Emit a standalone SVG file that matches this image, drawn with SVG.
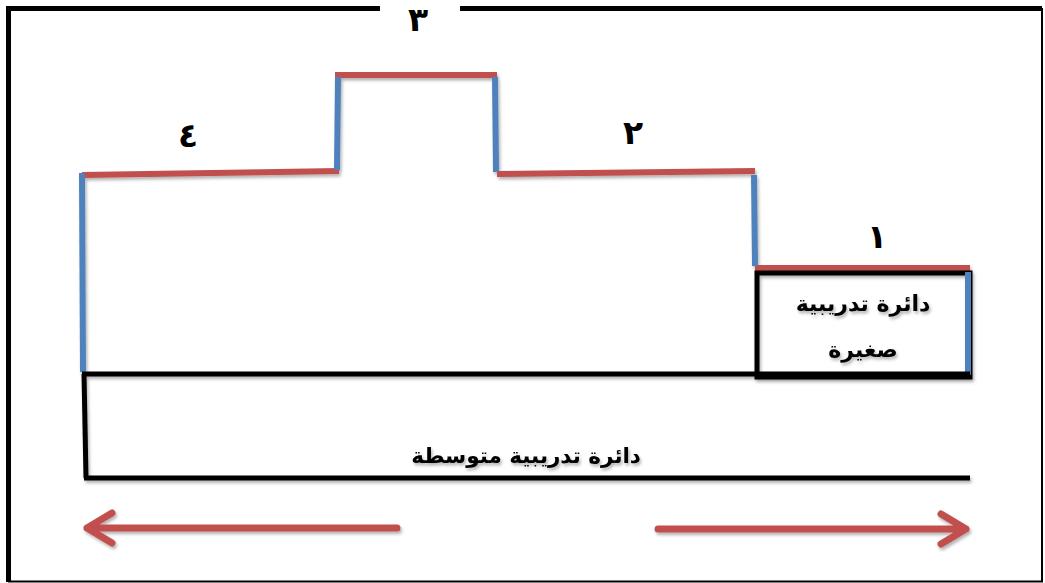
<svg xmlns="http://www.w3.org/2000/svg" width="1045" height="583" viewBox="0 0 1045 583">
<defs>
<filter id="sh" x="-10%" y="-10%" width="130%" height="160%">
<feDropShadow dx="1.5" dy="2.5" stdDeviation="1.5" flood-color="#000" flood-opacity="0.3"/>
</filter>
</defs>
<style>
.red{stroke:#c0504d;stroke-width:6;fill:none;stroke-linecap:butt}
.blue{stroke:#4f81bd;stroke-width:6;fill:none}
.blk{stroke:#000;stroke-width:5;fill:none}
.arr{stroke:#c0504d;stroke-width:7;fill:none;stroke-linecap:round;stroke-linejoin:round}
.t{font-family:"DejaVu Sans","Noto Sans",sans-serif;font-weight:bold;fill:#000;text-anchor:middle}
.num{font-size:33px}
.lab{font-size:22px}
.lab2{font-size:21.5px}
</style>
<rect width="1045" height="583" fill="#fff"/>
<g id="frame">
<line x1="8.5" y1="8.5" x2="380" y2="8.5" stroke="#000" stroke-width="5"/>
<line x1="460" y1="8.5" x2="1042" y2="8.5" stroke="#000" stroke-width="5"/>
<line x1="8.5" y1="6" x2="8.5" y2="582" stroke="#000" stroke-width="5"/>
<line x1="1042" y1="8" x2="1042" y2="582" stroke="#000" stroke-width="2"/>
<line x1="8" y1="581.5" x2="1043" y2="581.5" stroke="#000" stroke-width="2"/>
</g>
<g id="steps" filter="url(#sh)">
<line class="red" x1="82" y1="175" x2="339" y2="171"/>
<line class="red" x1="335" y1="75" x2="497" y2="75"/>
<line class="red" x1="497" y1="174" x2="755" y2="171"/>
<line class="red" x1="755" y1="268" x2="970" y2="268"/>
<line class="blue" x1="82" y1="173" x2="83" y2="372"/>
<line class="blue" x1="338" y1="77" x2="337" y2="170"/>
<line class="blue" x1="495" y1="77" x2="496" y2="172"/>
<line class="blue" x1="754" y1="175" x2="755" y2="266"/>
</g>
<g id="small-circle" filter="url(#sh)">
<rect class="blk" x="757" y="273" width="213" height="104"/>
<line class="blue" x1="968" y1="272" x2="968" y2="375"/>
<text class="t lab" x="863" y="311">دائرة تدريبية</text>
<text class="t lab" x="863" y="357">صغيرة</text>
</g>
<g id="medium-circle" filter="url(#sh)">
<line class="blk" x1="82" y1="374" x2="970" y2="374"/>
<line class="blk" x1="84" y1="374" x2="86" y2="478"/>
<line class="blk" x1="84" y1="478" x2="970" y2="478"/>
<text class="t lab2" x="526" y="463">دائرة تدريبية متوسطة</text>
</g>
<g id="labels">
<text class="t num" x="418" y="31">٣</text>
<text class="t num" x="188" y="147">٤</text>
<text class="t num" x="633" y="144">٢</text>
<text class="t num" x="877" y="248">١</text>
</g>
<g id="connectors" filter="url(#sh)">
<path class="arr" d="M397 528 L87 528 M112 513 L87 528 L112 543"/>
<path class="arr" d="M658 529 L966 529 M941 514 L966 529 L941 544"/>
</g>
</svg>
